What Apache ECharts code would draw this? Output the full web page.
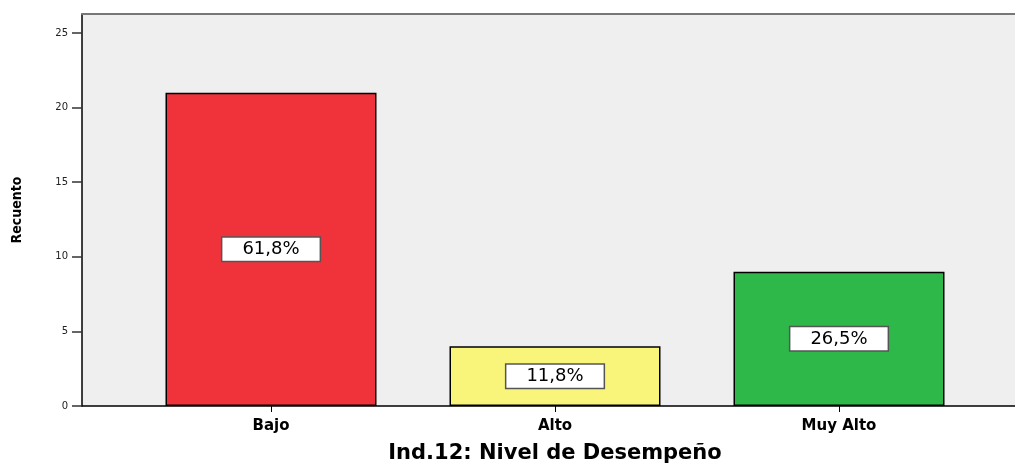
<!DOCTYPE html>
<html><head><meta charset="utf-8">
<script src="https://cdn.jsdelivr.net/npm/echarts@6/dist/echarts.min.js"></script>
<style>html,body{margin:0;padding:0;background:#fff}#c{width:1015px;height:464px}</style>
</head><body><div id="c"></div>
<script>
const categories = ['Bajo', 'Alto', 'Muy Alto'];
const counts = [21, 4, 9];
const percentLabels = ['61,8%', '11,8%', '26,5%'];
const barColors = ['#F0333B', '#F8F57A', '#2EB84A'];
const yTicks = [0, 5, 10, 15, 20, 25];
const xTitle = 'Ind.12: Nivel de Desempeño';
const yTitle = 'Recuento';
const yMax = 26.27;

const chart = echarts.init(document.getElementById('c'), null, {renderer: 'canvas'});
chart.setOption({
  animation: false,
  backgroundColor: '#ffffff',
  grid: [
    {left: 82, right: 0, top: 14, bottom: 58, show: true, backgroundColor: '#efefef', borderWidth: 0,
     containLabel: false, outerBoundsMode: 'none'},
    {left: 129, right: 34, top: 14, bottom: 58, containLabel: false, outerBoundsMode: 'none'}
  ],
  xAxis: [
    {gridIndex: 0, type: 'value', min: 0, max: 1, position: 'bottom',
     axisLine: {show: true, onZero: false, lineStyle: {color: '#000', width: 1.5}},
     axisTick: {show: false}, axisLabel: {show: false}, splitLine: {show: false}},
    {gridIndex: 0, type: 'value', min: 0, max: 1, position: 'top',
     axisLine: {show: true, onZero: false, lineStyle: {color: '#777', width: 2}},
     axisTick: {show: false}, axisLabel: {show: false}, splitLine: {show: false}},
    {gridIndex: 1, type: 'category', data: categories,
     axisLine: {show: false, onZero: false},
     axisTick: {show: true, alignWithLabel: true, length: 6, lineStyle: {color: '#000', width: 1}},
     axisLabel: {color: '#000', fontFamily: 'DejaVu Sans', fontWeight: 'bold', fontSize: 15, margin: 13},
     name: xTitle, nameLocation: 'middle', nameGap: 37,
     nameTextStyle: {color: '#000', fontFamily: 'DejaVu Sans', fontWeight: 'bold', fontSize: 21}}
  ],
  yAxis: [
    {gridIndex: 0, type: 'value', min: 0, max: yMax,
     axisLine: {show: true, lineStyle: {color: '#000', width: 1.5}},
     axisTick: {show: true, length: 10, lineStyle: {color: '#333', width: 1.5}, customValues: yTicks},
     axisLabel: {color: '#222', fontFamily: 'DejaVu Sans', fontSize: 10, margin: 14, customValues: yTicks},
     splitLine: {show: false},
     name: yTitle, nameLocation: 'middle', nameRotate: 90, nameGap: 58,
     nameTextStyle: {color: '#000', fontFamily: 'DejaVu Sans Condensed', fontWeight: 'bold', fontSize: 14}},
    {gridIndex: 1, type: 'value', min: 0, max: yMax, show: false}
  ],
  series: [{
    type: 'bar', xAxisIndex: 2, yAxisIndex: 1, barWidth: 211,
    data: counts.map((v, i) => ({value: v, itemStyle: {color: barColors[i]}})),
    itemStyle: {borderColor: '#000', borderWidth: 1.5},
    label: {show: true, position: 'inside', formatter: p => percentLabels[p.dataIndex],
      color: '#000', fontFamily: 'DejaVu Sans', fontSize: 18,
      backgroundColor: '#fff', borderColor: '#555', borderWidth: 1.5, padding: [3, 20, 2, 20]}
  }]
});
</script></body></html>
